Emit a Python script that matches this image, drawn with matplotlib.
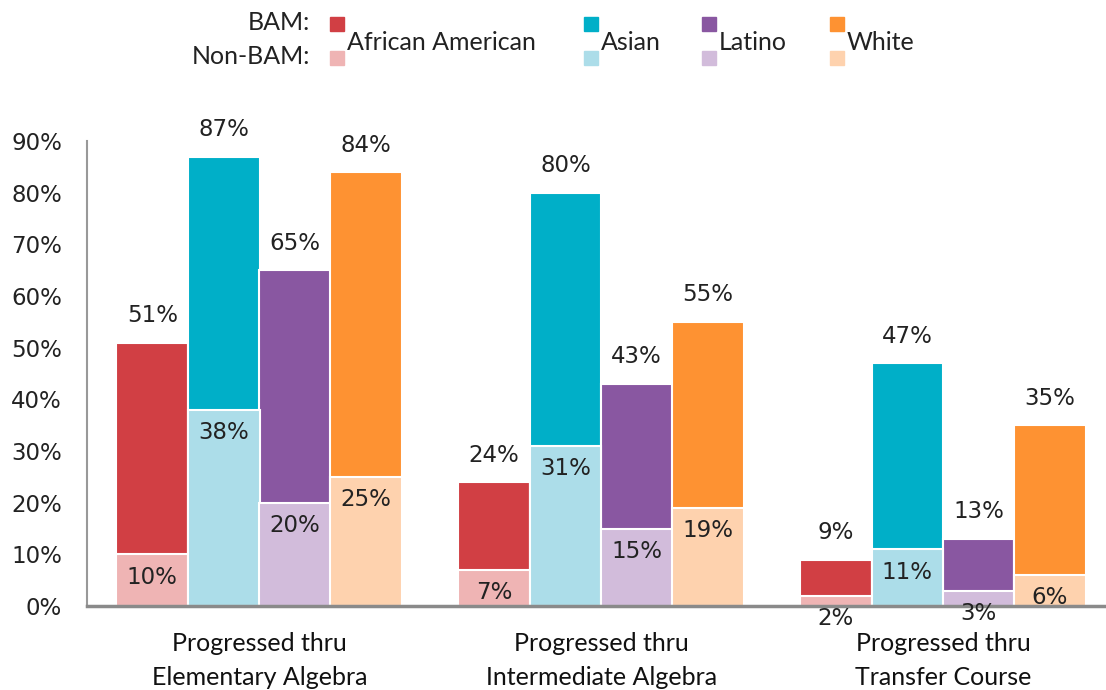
import matplotlib
matplotlib.use("Agg")
from matplotlib import pyplot as plt
from matplotlib.patches import Rectangle

plt.rcParams['font.family'] = ['Lato', 'DejaVu Sans']

categories = ["Progressed thru\nElementary Algebra",
              "Progressed thru\nIntermediate Algebra",
              "Progressed thru\nTransfer Course"]
groups = ["African American", "Asian", "Latino", "White"]
bam = {
    "African American": [51, 24, 9],
    "Asian": [87, 80, 47],
    "Latino": [65, 43, 13],
    "White": [84, 55, 35],
}
non_bam = {
    "African American": [10, 7, 2],
    "Asian": [38, 31, 11],
    "Latino": [20, 15, 3],
    "White": [25, 19, 6],
}
dark = {"African American": "#d13f44", "Asian": "#00afc8",
        "Latino": "#8957a1", "White": "#fe9232"}
light = {"African American": "#efb4b4", "Asian": "#acdde9",
         "Latino": "#d2bcdb", "White": "#fed2ae"}

offsets = [-0.313, -0.104, 0.104, 0.313]
width = 0.21
W, H = 1106, 690
num_font = dict(family='DejaVu Sans', fontsize=16.5, color='#222222')

fig = plt.figure(figsize=(W / 100, H / 100), dpi=100)
ax = fig.add_axes([87 / W, 84 / H, (W - 87) / W, 465 / H])

x = range(len(categories))
for g, off in zip(groups, offsets):
    xs = [i + off for i in x]
    ax.bar(xs, bam[g], width=width, color=dark[g], edgecolor='white', linewidth=1.5, zorder=2)
    ax.bar(xs, non_bam[g], width=width, color=light[g], edgecolor='white', linewidth=1.5, zorder=3)
    for xi, v in zip(xs, bam[g]):
        ax.annotate(f"{v}%", (xi, v), xytext=(0, 27), textcoords='offset pixels',
                    ha='center', va='center', zorder=8, **num_font)
    for xi, v in zip(xs, non_bam[g]):
        ax.annotate(f"{v}%", (xi, v), xytext=(0, -23), textcoords='offset pixels',
                    ha='center', va='center', zorder=8, **num_font)

ax.set_xlim(-0.504, 2.477)
ax.set_ylim(0, 90)
ax.set_yticks(range(0, 91, 10))
ax.set_yticklabels([f"{t}%" for t in range(0, 91, 10)], **num_font)
ax.set_xticks(list(x))
ax.set_xticklabels(categories, fontsize=18, color='#111111', linespacing=1.55)
ax.tick_params(length=0, axis='y', pad=18)
ax.tick_params(length=0, axis='x', pad=19)
for s in ['top', 'right']:
    ax.spines[s].set_visible(False)
ax.spines['left'].set_color('#999999')
ax.spines['left'].set_linewidth(1.5)
ax.spines['bottom'].set_color('#8a8a8a')
ax.spines['bottom'].set_linewidth(2.5)
ax.spines['bottom'].set_zorder(6)

# legend at top
fig.text(310 / W, 1 - 23 / H, "BAM:", ha='right', va='center', fontsize=18, color='#222222')
fig.text(310 / W, 1 - 57 / H, "Non-BAM:", ha='right', va='center', fontsize=18, color='#222222')
legend_x = {"African American": 330, "Asian": 584, "Latino": 702, "White": 830}
for g in groups:
    lx = legend_x[g]
    fig.patches.append(Rectangle((lx / W, 1 - 31 / H), 14 / W, 14 / H,
                                 transform=fig.transFigure, color=dark[g]))
    fig.patches.append(Rectangle((lx / W, 1 - 65 / H), 14 / W, 14 / H,
                                 transform=fig.transFigure, color=light[g]))
    fig.text((lx + 17) / W, 1 - 42 / H, g, ha='left', va='center', fontsize=18, color='#222222')

fig.savefig("out.png", dpi=100)
